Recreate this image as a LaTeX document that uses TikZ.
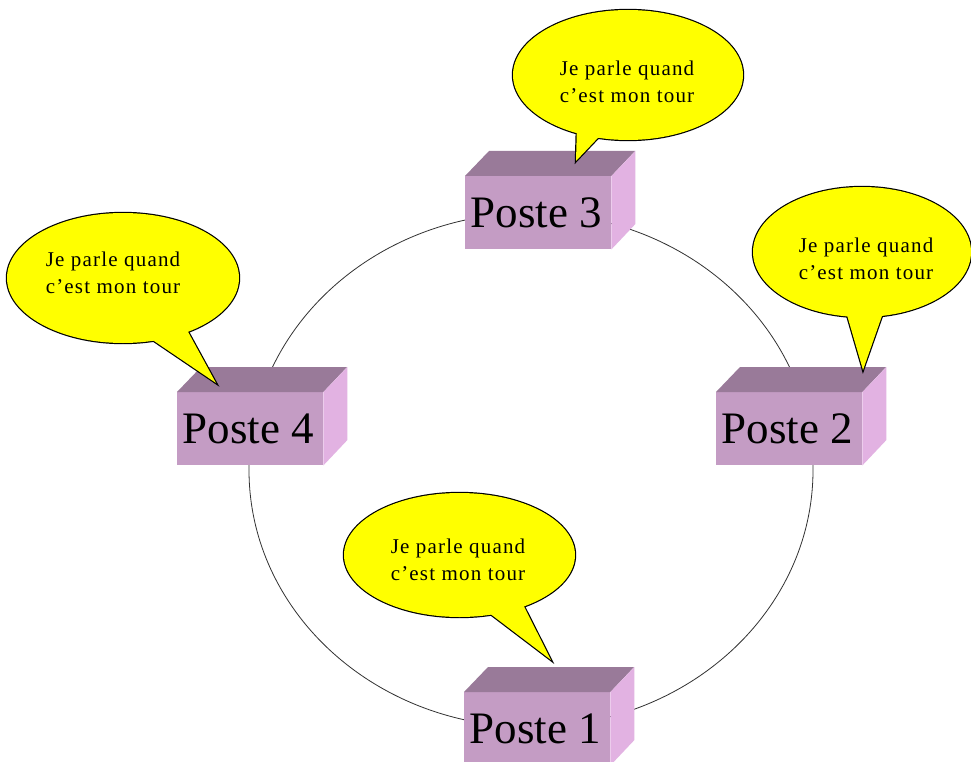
\documentclass[tikz,border=0pt]{standalone}
\usepackage{fontspec}
\setmainfont{Liberation Serif}
\usetikzlibrary{calc}
\definecolor{frontc}{RGB}{196,156,196}
\definecolor{topc}{RGB}{153,122,153}
\definecolor{sidec}{RGB}{226,178,226}
\definecolor{ringc}{RGB}{50,50,50}
\definecolor{bubblec}{RGB}{255,255,0}
\tikzset{
  frontbox/.style={rectangle, fill=frontc, draw=none, inner sep=0pt,
    minimum width=146pt, minimum height=73pt},
  postelabel/.style={inner sep=0pt, font=\fontsize{45}{50}\selectfont},
  bubbletext/.style={inner sep=0pt, align=center,
    font=\fontsize{21}{27}\selectfont\addfontfeatures{LetterSpace=5.7}},
  ring/.style={draw=ringc, line width=0.8pt},
  bubbleedge/.style={draw=black, line width=2.4pt, line join=miter},
}
% #1 name, #2 x, #3 y of front top-left corner, #4 label
\newcommand\postebox[4]{%
  \node[frontbox, anchor=north west] (#1) at (#2,#3) {};
  \fill[topc] (#1.north west) -- ++(24,-25) -- ++(146,0) -- (#1.north east) -- cycle;
  \fill[sidec] (#1.north east) -- ++(24,-25) -- ++(0,73) -- (#1.south east) -- cycle;
  \node[postelabel, anchor=base] (#1lab) at ([xshift=-2pt,yshift=-51pt]#1.north) {#4};
}
% #1 name, #2 centre, #3 rx, #4 ry, #5 base left, #6 tip, #7 base right
\newcommand\speech[7]{%
  \coordinate (#1c) at #2;
  \coordinate (#1t) at #6;
  \coordinate (#1l) at ($(#1c)!0.88!#5$);
  \coordinate (#1r) at ($(#1c)!0.88!#7$);
  \draw[bubbleedge] (#1c) ellipse [x radius=#3pt, y radius=#4pt];
  \draw[bubbleedge] (#1l) -- (#1t) -- (#1r);
  \fill[bubblec] (#1c) ellipse [x radius=#3pt, y radius=#4pt];
  \fill[bubblec] (#1l) -- (#1t) -- (#1r) -- cycle;
}
\begin{document}
\begin{tikzpicture}[x=1pt,y=-1pt]
\useasboundingbox[fill=white] (0,0) rectangle (971,762);
% ring
\coordinate (ringc) at (531,470);
\draw[ring] (ringc) ellipse [x radius=282pt, y radius=257pt];
% stations
\postebox{p3}{465}{176}{Poste 3}
\postebox{p4}{177}{392}{Poste 4}
\postebox{p2}{716}{392}{Poste 2}
\postebox{p1}{464}{692}{Poste 1}
% speech bubbles
\speech{e3}{(628,75)}{115}{65}{(570,133)}{(576,161)}{(600,140)}
\node[bubbletext] (c3) at (627,82) {Je parle quand\\c’est mon tour};
\speech{e2}{(862,252)}{109}{65}{(843,317)}{(863,370)}{(887,318)}
\node[bubbletext] (c2) at (866,259) {Je parle quand\\c’est mon tour};
\speech{e1}{(459.5,555)}{115.5}{62}{(488,617)}{(551,660)}{(529,606)}
\node[bubbletext] (c1) at (458,560) {Je parle quand\\c’est mon tour};
\speech{e4}{(123,278)}{116}{65}{(147,342)}{(216,383)}{(193,332)}
\node[bubbletext] (c4) at (113,273) {Je parle quand\\c’est mon tour};
\end{tikzpicture}
\end{document}
